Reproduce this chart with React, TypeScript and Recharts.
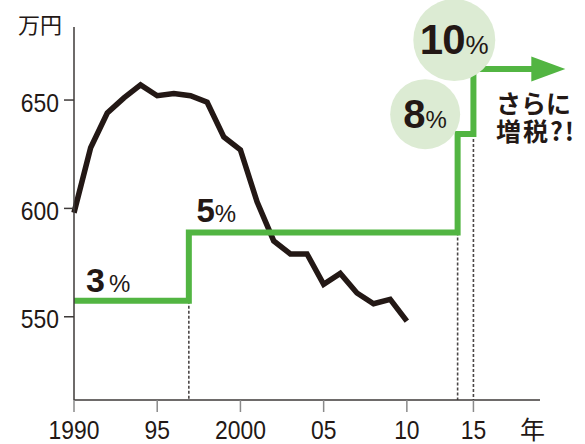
import {
  LineChart,
  Line,
  XAxis,
  YAxis,
  ReferenceLine,
  ReferenceDot,
} from "recharts";

// 世帯平均所得（万円）
const incomeYears = [
  1990, 1991, 1992, 1993, 1994, 1995, 1996, 1997, 1998, 1999, 2000, 2001,
  2002, 2003, 2004, 2005, 2006, 2007, 2008, 2009, 2010,
];
const incomeValues = [
  598, 628, 644, 651, 657, 652, 653, 652, 649, 633, 627, 603, 585, 579, 579,
  565, 570, 561, 556, 558, 548,
];

// 消費税率の段階（x は図上の位置、y は万円目盛り上の高さ）
const taxStepX = [1990, 1996.9, 2013.05, 2014, 2017.6];
const taxStepY = [557.4, 588.9, 634.3, 664.3, 664.3];
const taxRates = ["3", "5", "8", "10"];

const xTicks = [1990, 1995, 2000, 2005, 2010, 2014];
const xTickLabels = ["1990", "95", "2000", "05", "10", "15"];
const yTicks = [550, 600, 650];

const INK = "#231815";
const GREEN = "#52b542";
const PALE = "#dcebd3";
const NUM_FONT = '"Liberation Sans", Arial, sans-serif';
const JP_FONT = '"Noto Sans CJK JP", sans-serif';

const incomeData = incomeYears.map((year, i) => ({ year, income: incomeValues[i] }));
const taxData = taxStepX.map((year, i) => ({ year, rate: taxStepY[i] }));

function XTick({ x, y, payload }: any) {
  const idx = xTicks.indexOf(payload.value);
  return (
    <text
      transform={`translate(${x},${y + 25}) scale(0.88,1)`}
      textAnchor="middle"
      fontFamily={NUM_FONT}
      fontSize={26}
      fill={INK}
    >
      {xTickLabels[idx]}
    </text>
  );
}

function YTick({ x, y, payload }: any) {
  return (
    <text
      transform={`translate(${x - 3},${y + 11.5}) scale(0.88,1)`}
      textAnchor="end"
      fontFamily={NUM_FONT}
      fontSize={26}
      fill={INK}
    >
      {payload.value}
    </text>
  );
}

function ArrowDot(props: any) {
  const { cx, cy, index } = props;
  if (index !== taxData.length - 1) return <g key={`d${index}`} />;
  return (
    <polygon
      key={`d${index}`}
      points={`${cx - 2},${cy - 12.5} ${cx + 32},${cy} ${cx - 2},${cy + 12.5}`}
      fill={GREEN}
    />
  );
}

// 税率ラベル（円あり／なし）
const rateLabels = [
  { rate: taxRates[0], x: 1992.05, y: 561.5, r: 0, big: 34, small: 24, gap: 5 },
  { rate: taxRates[1], x: 1998.55, y: 593.5, r: 0, big: 33, small: 24, gap: 1 },
  { rate: taxRates[2], x: 2011.1, y: 643.5, r: 35, big: 40, small: 24, gap: 1 },
  { rate: taxRates[3], x: 2012.85, y: 677.7, r: 41, big: 42, small: 26, gap: 1 },
];

function RateShape({ cx, cy, item }: any) {
  const offset = item.circle ? 14 : 0;
  return (
    <text
      x={cx}
      y={cy + offset}
      textAnchor="middle"
      fontFamily={NUM_FONT}
      fill={INK}
    >
      <tspan fontSize={item.big} fontWeight={700} letterSpacing={-1}>
        {item.rate}
      </tspan>
      <tspan fontSize={item.small} dx={item.gap}>
        %
      </tspan>
    </text>
  );
}

export default function App() {
  return (
    <div
      style={{
        position: "absolute",
        left: 0,
        top: 0,
        width: 585,
        height: 444,
        background: "#fff",
      }}
    >
      <LineChart
        width={585}
        height={444}
        margin={{ top: 27, right: 45, left: 0, bottom: 0 }}
      >
        <XAxis
          type="number"
          dataKey="year"
          domain={[1990, 2018]}
          ticks={xTicks}
          interval={0}
          tick={<XTick />}
          tickSize={12}
          height={44}
          axisLine={{ stroke: "#3e3a39", strokeWidth: 1.5 }}
          tickLine={{ stroke: "#8a8a8a", strokeWidth: 1.5 }}
          allowDecimals
        />
        <YAxis
          type="number"
          domain={[511.6, 683.7]}
          ticks={yTicks}
          interval={0}
          width={74}
          tick={<YTick />}
          tickSize={10}
          axisLine={{ stroke: "#3e3a39", strokeWidth: 1.5 }}
          tickLine={{ stroke: "#3e3a39", strokeWidth: 1.5 }}
        />
        {taxStepX.slice(1, 4).map((x, i) => (
          <ReferenceLine
            key={`v${i}`}
            segment={[
              { x, y: taxStepY[i] },
              { x, y: 511.6 },
            ]}
            stroke="#4a4646"
            strokeWidth={1.6}
            strokeDasharray="3 2"
          />
        ))}
        {rateLabels
          .filter((d) => d.r > 0)
          .map((item) => (
            <ReferenceDot
              key={`c${item.rate}`}
              x={item.x}
              y={item.y}
              r={item.r}
              shape={(p: any) => <circle cx={p.cx} cy={p.cy} r={item.r} fill={PALE} />}
            />
          ))}
        <Line
          data={incomeData}
          dataKey="income"
          type="linear"
          stroke={INK}
          strokeWidth={5.5}
          dot={false}
          isAnimationActive={false}
        />
        <Line
          data={taxData}
          dataKey="rate"
          type="stepAfter"
          stroke={GREEN}
          strokeWidth={6}
          dot={ArrowDot}
          isAnimationActive={false}
        />
        {rateLabels.map((item) => (
          <ReferenceDot
            key={`t${item.rate}`}
            x={item.x}
            y={item.y}
            r={1}
            shape={(p: any) => (
              <RateShape cx={p.cx} cy={p.cy} item={{ ...item, circle: item.r > 0 }} />
            )}
          />
        ))}
      </LineChart>
      <svg
        width={585}
        height={444}
        style={{ position: "absolute", left: 0, top: 0, pointerEvents: "none" }}
      >
        <text x={18} y={33} fontFamily={JP_FONT} fontSize={22} fill={INK}>
          万円
        </text>
        <text x={520} y={439} fontFamily={JP_FONT} fontSize={25} fill={INK}>
          年
        </text>
        <text x={496} y={113} fontFamily={JP_FONT} fontSize={25} fontWeight={700} fill={INK}>
          さらに
        </text>
        <text x={496} y={141} fontFamily={JP_FONT} fontSize={25} fontWeight={700} fill={INK} letterSpacing={2}>
          増税?!
        </text>
      </svg>
    </div>
  );
}
